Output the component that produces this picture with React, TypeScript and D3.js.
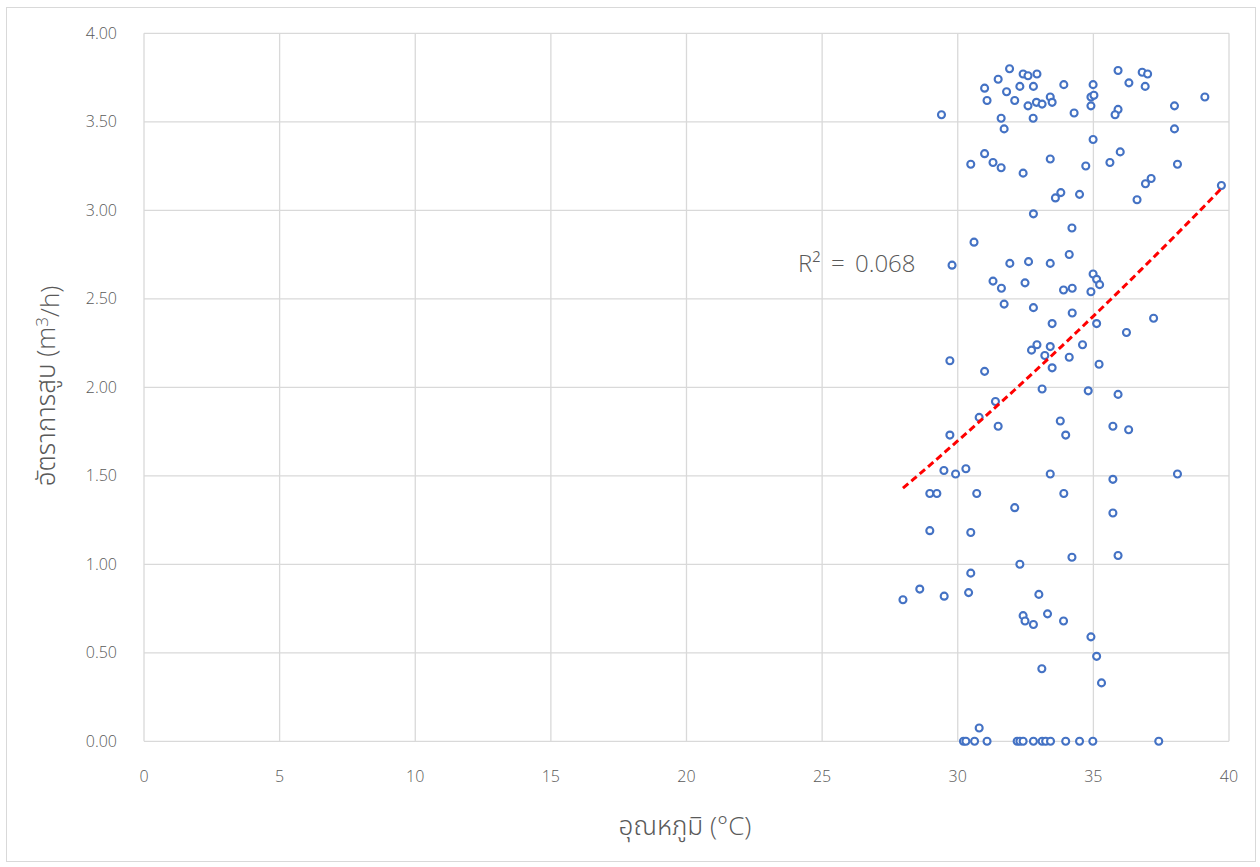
import React from "react";
import * as d3 from "d3";

const temperature: number[] = [
  29.40, 31.91, 32.41, 32.59, 32.92, 31.49, 30.99, 32.29, 32.79, 31.80,
  31.08, 32.10, 32.59, 32.90, 33.11, 33.41, 33.48, 31.60, 32.78, 31.71,
  30.99, 30.48, 31.30, 31.60, 32.41, 33.41, 33.60, 33.80, 32.79,
  33.91, 34.29, 34.99, 34.91, 35.02, 34.91, 35.91, 36.31, 36.80, 37.00,
  36.91, 35.91, 35.80, 37.99, 39.11, 37.99, 34.99, 34.72, 35.61, 35.99,
  38.10, 37.13, 36.92, 36.61, 39.72, 34.49, 34.21,
  30.60, 29.79, 31.92, 32.61, 33.41, 31.30, 31.61, 32.48, 31.71, 32.79,
  33.48, 32.72, 32.92, 33.41, 33.21, 33.48, 29.71, 30.99, 33.11,
  34.11, 34.99, 35.12, 35.23, 33.90, 34.22, 34.91, 34.22, 35.12, 37.22,
  36.22, 34.60, 34.11, 35.21, 34.81, 35.91,
  31.39, 30.79, 31.49, 29.71, 33.78, 29.49, 29.92, 30.30, 33.41, 28.97,
  29.23, 30.70, 32.10, 28.97, 30.48, 32.29,
  33.98, 35.72, 36.30, 35.72, 38.10, 33.91, 35.72, 34.21, 35.91,
  30.48, 28.60, 27.98, 29.50, 30.40, 32.99, 32.41, 32.48, 32.79, 33.31,
  33.90, 34.91, 35.12, 35.30, 33.10, 30.79,
  30.21, 30.30, 30.62, 31.08, 32.19, 32.29, 32.41, 32.79, 33.11, 33.24,
  33.42, 33.98, 34.49, 34.98, 37.41,
];

const pumpRate: number[] = [
  3.54, 3.80, 3.77, 3.76, 3.77, 3.74, 3.69, 3.70, 3.70, 3.67,
  3.62, 3.62, 3.59, 3.61, 3.60, 3.64, 3.61, 3.52, 3.52, 3.46,
  3.32, 3.26, 3.27, 3.24, 3.21, 3.29, 3.07, 3.10, 2.98,
  3.71, 3.55, 3.71, 3.64, 3.65, 3.59, 3.79, 3.72, 3.78, 3.77,
  3.70, 3.57, 3.54, 3.59, 3.64, 3.46, 3.40, 3.25, 3.27, 3.33,
  3.26, 3.18, 3.15, 3.06, 3.14, 3.09, 2.90,
  2.82, 2.69, 2.70, 2.71, 2.70, 2.60, 2.56, 2.59, 2.47, 2.45,
  2.36, 2.21, 2.24, 2.23, 2.18, 2.11, 2.15, 2.09, 1.99,
  2.75, 2.64, 2.61, 2.58, 2.55, 2.56, 2.54, 2.42, 2.36, 2.39,
  2.31, 2.24, 2.17, 2.13, 1.98, 1.96,
  1.92, 1.83, 1.78, 1.73, 1.81, 1.53, 1.51, 1.54, 1.51, 1.40,
  1.40, 1.40, 1.32, 1.19, 1.18, 1.00,
  1.73, 1.78, 1.76, 1.48, 1.51, 1.40, 1.29, 1.04, 1.05,
  0.95, 0.86, 0.80, 0.82, 0.84, 0.83, 0.71, 0.68, 0.66, 0.72,
  0.68, 0.59, 0.48, 0.33, 0.41, 0.075,
  0, 0, 0, 0, 0, 0, 0, 0, 0, 0,
  0, 0, 0, 0, 0,
];

const xTicks: number[] = [0, 5, 10, 15, 20, 25, 30, 35, 40];
const yTicks: number[] = [0, 0.5, 1, 1.5, 2, 2.5, 3, 3.5, 4];

// trendline as drawn in the source: quadratic around x0
const trendX0 = 27.98;
const trendCoef: number[] = [1.43, 0.1299, 0.00122];
const trendRange: number[] = [27.98, 39.7];
const rSquaredValue = "0.068";

const W = 1260;
const H = 867;
const M = { left: 144, right: 1229, top: 33.3, bottom: 741.3 };

const FONT = "'Open Sans', 'Noto Sans Thai', 'Noto Sans', sans-serif";
const TEXT = "#595959";
const GRID = "#d9d9d9";

export default function App() {
  const x = d3.scaleLinear().domain([0, 40]).range([M.left, M.right]);
  const y = d3.scaleLinear().domain([0, 4]).range([M.bottom, M.top]);

  const trendPts: [number, number][] = d3
    .range(0, 61)
    .map((i) => trendRange[0] + ((trendRange[1] - trendRange[0]) * i) / 60)
    .map((xv) => {
      const u = xv - trendX0;
      return [xv, trendCoef[0] + trendCoef[1] * u + trendCoef[2] * u * u];
    });
  const line = d3
    .line<[number, number]>()
    .x((d) => x(d[0]))
    .y((d) => y(d[1]));

  return (
    <svg
      width={W}
      height={H}
      style={{ position: "absolute", left: 0, top: 0, background: "#fff" }}
      fontFamily={FONT}
      fontWeight={300}
    >
      <rect x={6.5} y={7.5} width={1249} height={854} fill="#fff" stroke="#d9d9d9" strokeWidth={1} />
      {yTicks.map((t) => (
        <line key={"gy" + t} x1={M.left} x2={M.right} y1={y(t)} y2={y(t)} stroke={GRID} strokeWidth={1.3} />
      ))}
      {xTicks.map((t) => (
        <line key={"gx" + t} x1={x(t)} x2={x(t)} y1={M.top} y2={M.bottom} stroke={GRID} strokeWidth={1.3} />
      ))}
      {yTicks.map((t) => (
        <text key={"ty" + t} x={117} y={y(t)} dy="0.35em" textAnchor="end" fontSize={16} fill={TEXT}>
          {t.toFixed(2)}
        </text>
      ))}
      {xTicks.map((t) => (
        <text key={"tx" + t} x={x(t)} y={776} dy="0.35em" textAnchor="middle" fontSize={16} fill={TEXT}>
          {t}
        </text>
      ))}
      <text x={685} y={826} dy="0.35em" textAnchor="middle" fontSize={26} fill={TEXT}>
        อุณหภูมิ (°C)
      </text>
      <text
        transform={`translate(46, 386) rotate(-90)`}
        dy="0.35em"
        textAnchor="middle"
        fontSize={26}
        fill={TEXT}
      >
        อัตราการสูบ (m<tspan dy="-0.4em" fontSize={17}>3</tspan>
        <tspan dy="0.4em">/h)</tspan>
      </text>
      {temperature.map((t, i) => (
        <circle
          key={"p" + i}
          cx={x(t)}
          cy={y(pumpRate[i])}
          r={3.5}
          fill="#fff"
          stroke="#4472C4"
          strokeWidth={2.1}
        />
      ))}
      <path
        d={line(trendPts) || ""}
        fill="none"
        stroke="#FF0000"
        strokeWidth={3}
        strokeDasharray="7,4"
      />
      <text x={798} y={264} dy="0.35em" fontSize={24} fill={TEXT}>
        R²
      </text>
      <text x={831} y={264} dy="0.35em" fontSize={24} fill={TEXT}>
        =
      </text>
      <text x={855} y={264} dy="0.35em" fontSize={24} fill={TEXT}>
        {rSquaredValue}
      </text>
    </svg>
  );
}
